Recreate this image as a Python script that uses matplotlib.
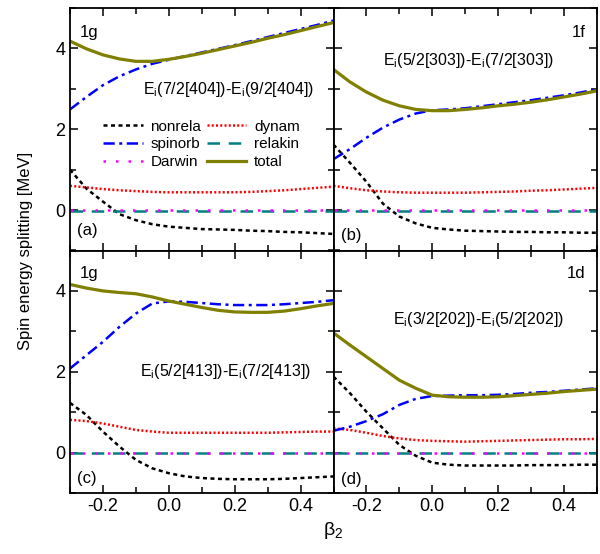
import numpy as np
import matplotlib
matplotlib.use("Agg")
import matplotlib.pyplot as plt
from matplotlib.ticker import MultipleLocator

plt.rcParams['font.family'] = ['Liberation Sans', 'DejaVu Sans']
plt.rcParams['mathtext.fontset'] = 'custom'
plt.rcParams['mathtext.rm'] = 'Liberation Sans'
plt.rcParams['mathtext.it'] = 'Liberation Sans:italic'
plt.rcParams['axes.unicode_minus'] = False

beta = [-0.3, -0.25, -0.2, -0.15, -0.1, -0.05, 0.0, 0.05, 0.1, 0.15,
        0.2, 0.25, 0.3, 0.35, 0.4, 0.45, 0.5]

# Panel (a) 1g 7/2[404]-9/2[404]
a_nonrela = [1.00, 0.53, 0.21, -0.10, -0.25, -0.35, -0.41, -0.44, -0.47, -0.48, -0.49, -0.51, -0.52, -0.54, -0.55, -0.57, -0.59]
a_dynam   = [0.60, 0.56, 0.52, 0.49, 0.47, 0.45, 0.44, 0.44, 0.44, 0.44, 0.44, 0.45, 0.47, 0.49, 0.52, 0.55, 0.58]
a_spinorb = [2.49, 2.80, 3.09, 3.31, 3.48, 3.62, 3.72, 3.81, 3.90, 3.99, 4.08, 4.18, 4.28, 4.38, 4.48, 4.58, 4.69]
a_relakin = [-0.02] * 17
a_darwin  = [0.0] * 17
a_total   = [4.18, 3.99, 3.84, 3.74, 3.68, 3.68, 3.73, 3.80, 3.88, 3.97, 4.06, 4.15, 4.25, 4.34, 4.44, 4.54, 4.64]

# Panel (b) 1f 5/2[303]-7/2[303]
b_nonrela = [1.62, 1.17, 0.70, 0.16, -0.16, -0.33, -0.44, -0.48, -0.51, -0.52, -0.53, -0.54, -0.54, -0.55, -0.55, -0.56, -0.56]
b_dynam   = [0.60, 0.54, 0.49, 0.46, 0.44, 0.43, 0.43, 0.43, 0.43, 0.44, 0.45, 0.46, 0.48, 0.49, 0.51, 0.53, 0.55]
b_spinorb = [1.26, 1.51, 1.79, 2.04, 2.24, 2.39, 2.47, 2.49, 2.52, 2.57, 2.62, 2.67, 2.72, 2.78, 2.84, 2.91, 2.99]
b_relakin = [-0.02] * 17
b_darwin  = [0.0] * 17
b_total   = [3.48, 3.17, 2.92, 2.72, 2.58, 2.49, 2.46, 2.46, 2.49, 2.53, 2.58, 2.62, 2.67, 2.73, 2.80, 2.87, 2.95]

# Panel (c) 1g 5/2[413]-7/2[413]
c_nonrela = [1.23, 0.93, 0.52, 0.15, -0.18, -0.39, -0.51, -0.59, -0.63, -0.65, -0.66, -0.66, -0.66, -0.65, -0.63, -0.61, -0.59]
c_dynam   = [0.81, 0.78, 0.72, 0.64, 0.56, 0.52, 0.49, 0.49, 0.49, 0.49, 0.49, 0.49, 0.49, 0.50, 0.51, 0.52, 0.52]
c_spinorb = [2.08, 2.41, 2.74, 3.11, 3.44, 3.69, 3.74, 3.73, 3.70, 3.67, 3.65, 3.65, 3.65, 3.67, 3.70, 3.73, 3.77]
c_relakin = [-0.02] * 17
c_darwin  = [0.0] * 17
c_total   = [4.16, 4.07, 4.00, 3.96, 3.93, 3.85, 3.75, 3.67, 3.59, 3.52, 3.48, 3.47, 3.47, 3.50, 3.56, 3.63, 3.69]

# Panel (d) 1d 3/2[202]-5/2[202]
d_nonrela = [1.88, 1.47, 1.01, 0.60, 0.19, -0.08, -0.25, -0.30, -0.32, -0.32, -0.32, -0.32, -0.31, -0.31, -0.31, -0.30, -0.30]
d_dynam   = [0.60, 0.56, 0.49, 0.41, 0.35, 0.31, 0.29, 0.28, 0.27, 0.28, 0.29, 0.30, 0.31, 0.32, 0.33, 0.33, 0.34]
d_spinorb = [0.54, 0.64, 0.78, 0.95, 1.18, 1.33, 1.40, 1.41, 1.42, 1.42, 1.43, 1.45, 1.48, 1.50, 1.53, 1.56, 1.59]
d_relakin = [-0.02] * 17
d_darwin  = [0.0] * 17
d_total   = [2.96, 2.66, 2.37, 2.08, 1.79, 1.59, 1.42, 1.38, 1.37, 1.37, 1.38, 1.41, 1.44, 1.47, 1.51, 1.54, 1.57]

panels = [
    dict(nonrela=a_nonrela, dynam=a_dynam, spinorb=a_spinorb, relakin=a_relakin, darwin=a_darwin, total=a_total,
         shell='1g', tag='(a)', label=r'E$_{\mathregular{i}}$(7/2[404])-E$_{\mathregular{i}}$(9/2[404])'),
    dict(nonrela=b_nonrela, dynam=b_dynam, spinorb=b_spinorb, relakin=b_relakin, darwin=b_darwin, total=b_total,
         shell='1f', tag='(b)', label=r'E$_{\mathregular{i}}$(5/2[303])-E$_{\mathregular{i}}$(7/2[303])'),
    dict(nonrela=c_nonrela, dynam=c_dynam, spinorb=c_spinorb, relakin=c_relakin, darwin=c_darwin, total=c_total,
         shell='1g', tag='(c)', label=r'E$_{\mathregular{i}}$(5/2[413])-E$_{\mathregular{i}}$(7/2[413])'),
    dict(nonrela=d_nonrela, dynam=d_dynam, spinorb=d_spinorb, relakin=d_relakin, darwin=d_darwin, total=d_total,
         shell='1d', tag='(d)', label=r'E$_{\mathregular{i}}$(3/2[202])-E$_{\mathregular{i}}$(5/2[202])'),
]

fig = plt.figure(figsize=(6.0, 5.54), dpi=100)
gs = fig.add_gridspec(2, 2, left=70/600, right=597/600, top=1-8/554, bottom=1-493/554,
                      hspace=0, wspace=0)
axes = [fig.add_subplot(gs[i, j]) for i in range(2) for j in range(2)]

shell_pos = [(0.038, 0.90, 'left'), (0.955, 0.90, 'right'), (0.038, 0.905, 'left'), (0.955, 0.905, 'right')]
tag_pos = [0.083, 0.062, 0.058, 0.055]
label_pos = [(0.278, 0.665), (0.186, 0.785), (0.266, 0.50), (0.227, 0.715)]

for k, (ax, p) in enumerate(zip(axes, panels)):
    h_non, = ax.plot(beta, p['nonrela'], color='black', ls=(0, (1.6, 1.4)), lw=1.8, label='nonrela')
    h_dyn, = ax.plot(beta, p['dynam'], color='red', ls=(0, (0.8, 0.9)), lw=1.8, label='dynam')
    h_spo, = ax.plot(beta, p['spinorb'], color='blue', ls=(0, (4.5, 1.8, 1.2, 1.8)), lw=1.8, label='spinorb')
    h_rel, = ax.plot(beta, p['relakin'], color='#008080', ls=(0, (5, 3.5)), lw=1.8, label='relakin')
    h_dar, = ax.plot(beta, p['darwin'], color='magenta', ls=(0, (1, 4)), lw=1.8, label='Darwin')
    h_tot, = ax.plot(beta, p['total'], color='#808000', ls='-', lw=2.3, label='total')

    ax.set_xlim(-0.3, 0.5)
    ax.set_ylim(-1, 5)
    ax.xaxis.set_major_locator(MultipleLocator(0.2))
    ax.xaxis.set_minor_locator(MultipleLocator(0.1))
    ax.yaxis.set_major_locator(MultipleLocator(2))
    ax.yaxis.set_minor_locator(MultipleLocator(1))
    ax.tick_params(which='both', direction='in', top=True, right=True, labelsize=13)
    ax.tick_params(which='major', length=6, width=1.1)
    ax.tick_params(which='minor', length=4, width=1.1)
    for s in ax.spines.values():
        s.set_linewidth(1.3)
    if k % 2 == 1:
        ax.set_yticklabels([])
    if k < 2:
        ax.set_xticklabels([])
    x0, y0, ha = shell_pos[k]
    ax.text(x0, y0, p['shell'], transform=ax.transAxes, ha=ha, va='center', fontsize=12)
    ax.text(0.027, tag_pos[k], p['tag'], transform=ax.transAxes, ha='left', va='center', fontsize=12)
    ax.text(label_pos[k][0], label_pos[k][1], p['label'], transform=ax.transAxes,
            ha='left', va='center', fontsize=11.5)
    if k == 0:
        handles = [h_non, h_spo, h_dar, h_dyn, h_rel, h_tot]

axes[0].legend(handles=handles, labels=[h.get_label() for h in handles], ncol=2, frameon=False,
               fontsize=11, loc='upper left', bbox_to_anchor=(0.125, 0.54), handlelength=2.6,
               handletextpad=0.5, columnspacing=0.35, labelspacing=0.25, borderaxespad=0,
               borderpad=0)

fig.text(0.042, (1 - 8/554 + 1 - 493/554) / 2, 'Spin energy splitting [MeV]', rotation=90,
         ha='center', va='center', fontsize=12)
fig.text((70/600 + 597/600) / 2, 0.043, r'$\mathregular{\beta_2}$', ha='center', va='center', fontsize=14)

fig.savefig('out.png', dpi=100)
